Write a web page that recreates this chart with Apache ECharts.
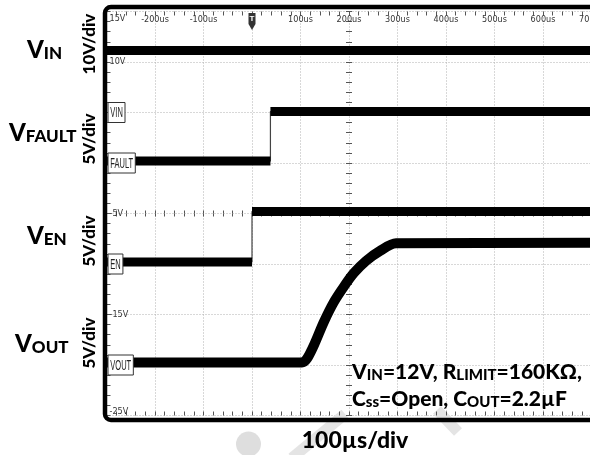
<!DOCTYPE html>
<html><head><meta charset="utf-8">
<script src="https://cdn.jsdelivr.net/npm/echarts@6/dist/echarts.min.js"></script>
<style>html,body{margin:0;padding:0;background:#fff}#c{width:590px;height:455px}</style>
</head><body><div id="c"></div>
<script>
// ---- axis definitions (time in µs, ruler in volts, 5 V/div ruler) ----
const timeMin = -300, timeMax = 700, timeStep = 100;
const topTickLabels = ['', '-200us', '-100us', '', '100us', '200us', '300us', '400us', '500us', '600us', '700us'];
const rulerMin = -25, rulerMax = 15, rulerStep = 5;
const rulerValues = [15, 10, -5, -15, -25];
const rulerLabels = ['15V', '10V', '-5V', '-15V', '-25V'];
const channelNames = ['VIN', 'FAULT', 'EN', 'VOUT'];
const channelGround = [5, 0, -10, -20];

// ---- traces (display position on ruler) ----
const vinTime = [-300, 700];
const vinLevel = [11.15, 11.15];
const faultTime = [-300, 38, 38, 700];
const faultLevel = [0.2, 0.2, 5.1, 5.1];
const enTime = [-300, 0, 0, 700];
const enLevel = [-9.8, -9.8, -4.8, -4.8];
const voutTime = [-300, 103, 113, 128, 148, 169, 190, 210, 235, 264, 297, 700];
const voutLevel = [-19.75, -19.75, -19.4, -18.0, -15.75, -13.75, -12.2, -10.9, -9.7, -8.7, -7.95, -7.9];

const FONT_NARROW = "'Liberation Sans Narrow','DejaVu Sans Condensed',sans-serif";
const FONT_BOLD = "Lato, 'Open Sans', sans-serif";

function pts(ts, vs) { return ts.map((t, i) => [t, vs[i]]); }
function levels(ts, vs) {
  const out = [];
  ts.forEach((t, i) => {
    out.push([t, vs[i]]);
    if (i < ts.length - 1 && ts[i + 1] === t) out.push([t, '-']);
  });
  return out;
}
function line(name, data, width, color, z, smooth) {
  return { name, type: 'line', data, symbol: 'none', silent: true, smooth: smooth || false,
    connectNulls: false, xAxisIndex: 0, yAxisIndex: 0, z,
    lineStyle: { width, color, cap: 'butt', join: 'round' } };
}

const chart = echarts.init(document.getElementById('c'), null, { renderer: 'canvas' });

const gridDef = { left: 106.5, top: 11.5, width: 485, height: 404, containLabel: false, outerBoundsMode: 'none' };
const tickColor = '#555';
const noLine = { show: false, onZero: false };
const baseX = { type: 'value', min: timeMin, max: timeMax, interval: timeStep };
const baseY = { type: 'value', min: rulerMin, max: rulerMax, interval: rulerStep };
const ticks = len => ({
  axisTick: { show: true, inside: true, length: len, lineStyle: { color: tickColor } },
  minorTick: { show: true, splitNumber: 5, length: len, lineStyle: { color: tickColor } }
});
const dotted = { show: true, lineStyle: { color: '#b0b0b0', type: [1, 2], width: 1 } };

const option = {
  animation: false,
  backgroundColor: '#fff',
  grid: gridDef,
  xAxis: [
    Object.assign({}, baseX, ticks(4), { position: 'bottom', axisLine: noLine,
      axisLabel: { show: false }, splitLine: dotted }),
    Object.assign({}, baseX, ticks(4), { position: 'top', axisLine: noLine,
      axisLabel: { show: true, inside: true, margin: 4, fontSize: 9, color: '#333', fontFamily: FONT_NARROW,
        showMinLabel: true, showMaxLabel: true,
        formatter: v => topTickLabels[Math.round((v - timeMin) / timeStep)] || '' },
      splitLine: { show: false } }),
    Object.assign({}, baseX, ticks(3), { position: 'top', offset: -202, axisLine: noLine,
      axisLabel: { show: false }, splitLine: { show: false } }),
    Object.assign({}, baseX, ticks(3), { position: 'bottom', offset: -202, axisLine: noLine,
      axisLabel: { show: false }, splitLine: { show: false } })
  ],
  yAxis: [
    Object.assign({}, baseY, ticks(4), { position: 'left', axisLine: noLine,
      axisLabel: { show: false }, splitLine: dotted }),
    Object.assign({}, baseY, { position: 'left', z: 20,
      axisLine: noLine, axisTick: { show: false }, splitLine: { show: false },
      axisLabel: { show: true, inside: true, margin: 3, fontSize: 9, color: '#333', fontFamily: FONT_NARROW,
        showMinLabel: true, showMaxLabel: true,
        formatter: v => {
          const i = rulerValues.indexOf(Math.round(v));
          if (i < 0) return '';
          if (v === rulerMax) return '{top|' + rulerLabels[i] + '}';
          if (v === rulerMin) return '{bot|' + rulerLabels[i] + '}';
          return rulerLabels[i];
        },
        rich: {
          top: { fontSize: 9, fontFamily: FONT_NARROW, color: '#333', padding: [15, 0, 0, 0] },
          bot: { fontSize: 9, fontFamily: FONT_NARROW, color: '#333', padding: [0, 0, 7, 0] }
        } } }),
    Object.assign({}, baseY, ticks(3), { position: 'left', offset: -242.5, axisLine: noLine,
      axisLabel: { show: false }, splitLine: { show: false } }),
    Object.assign({}, baseY, ticks(3), { position: 'right', offset: -242.5, axisLine: noLine,
      axisLabel: { show: false }, splitLine: { show: false } })
  ],
  series: [
    line('VIN', pts(vinTime, vinLevel), 9, '#000', 4),
    line('FAULT edge', pts(faultTime, faultLevel), 1.2, '#444', 3),
    line('FAULT', levels(faultTime, faultLevel), 9, '#000', 4),
    line('EN edge', pts(enTime, enLevel), 1.2, '#444', 3),
    line('EN', levels(enTime, enLevel), 9, '#000', 4),
    line('VOUT', pts(voutTime, voutLevel), 10, '#000', 4, 0.3)
  ]
};
chart.setOption(option);

// ---- annotations positioned through the axes ----
const toPx = (t, v) => chart.convertToPixel({ gridIndex: 0 }, [t, v]);
const measureCtx = document.createElement('canvas').getContext('2d');
measureCtx.font = '15px "Liberation Sans"';
const g = [];

// watermark (behind)
g.push({ type: 'circle', shape: { cx: 248.5, cy: 444, r: 12.5 }, style: { fill: '#dedede' }, z: 0, silent: true });
g.push({ type: 'line', shape: { x1: 345, y1: 414, x2: 292, y2: 458 }, style: { stroke: '#e4e4e4', lineWidth: 11 }, z: 0, silent: true });
g.push({ type: 'line', shape: { x1: 437, y1: 410, x2: 458, y2: 432 }, style: { stroke: '#e4e4e4', lineWidth: 11 }, z: 0, silent: true });

// frame
g.push({ type: 'rect', shape: { x: 105, y: 7, width: 620, height: 413, r: 6 },
  style: { fill: 'none', stroke: '#000', lineWidth: 4.5 }, z: 60, silent: true });

// channel ground markers
const gridLeft = toPx(timeMin, 0)[0];
channelNames.forEach((name, i) => {
  const y = toPx(timeMin, channelGround[i])[1];
  const scale = 0.5;
  const w = measureCtx.measureText(name).width * scale + 4.5;
  g.push({ type: 'group', x: gridLeft + 1.5, y: y - 10, z: 70, silent: true, children: [
    { type: 'rect', shape: { x: 0, y: 0, width: w, height: 20 }, style: { fill: '#fff', stroke: '#333', lineWidth: 1 }, z: 70 },
    { type: 'text', x: 2.3, y: 10.5, scaleX: scale, z: 71,
      style: { text: name, font: '15px "Liberation Sans"', fill: '#222', align: 'left', verticalAlign: 'middle' } }
  ] });
});

// trigger marker
const trigX = toPx(0, 0)[0];
g.push({ type: 'group', x: trigX, y: 13, z: 70, silent: true, children: [
  { type: 'polygon', shape: { points: [[-3.5, 0], [3.5, 0], [3.5, 11], [0, 17], [-3.5, 11]] }, style: { fill: '#333' }, z: 70 },
  { type: 'text', x: 0, y: 6, z: 71, style: { text: 'T', font: 'bold 8px "Liberation Sans"', fill: '#fff', align: 'center', verticalAlign: 'middle' } }
] });

// left channel names
const capRich = {
  b: { fontFamily: FONT_BOLD, fontWeight: 900, fontSize: 24, lineHeight: 24, verticalAlign: 'bottom', color: '#000' },
  s: { fontFamily: FONT_BOLD, fontWeight: 900, fontSize: 17, lineHeight: 19, verticalAlign: 'bottom', color: '#000' }
};
const leftNames = [
  { big: 'V', small: 'IN', x: 27, y: 62 },
  { big: 'V', small: 'FAULT', x: 9, y: 145 },
  { big: 'V', small: 'EN', x: 27, y: 248 },
  { big: 'V', small: 'OUT', x: 15, y: 356 }
];
leftNames.forEach(n => g.push({ type: 'text', x: n.x, y: n.y, z: 70, silent: true,
  style: { text: '{b|' + n.big + '}{s|' + n.small + '}', rich: capRich, align: 'left', verticalAlign: 'bottom' } }));

// vertical scale labels
const scaleLabels = [
  { text: '10V/div', cy: 44 }, { text: '5V/div', cy: 139 }, { text: '5V/div', cy: 241 }, { text: '5V/div', cy: 343 }
];
scaleLabels.forEach(s => g.push({ type: 'text', x: 90, y: s.cy, rotation: Math.PI / 2, z: 70, silent: true,
  style: { text: s.text, fontFamily: FONT_BOLD, fontWeight: 900, fontSize: 17, fill: '#000', align: 'center', verticalAlign: 'middle' } }));

// condition annotation
const annRich = {
  b: { fontFamily: FONT_BOLD, fontWeight: 900, fontSize: 21, lineHeight: 27, verticalAlign: 'bottom', color: '#000' },
  s: { fontFamily: FONT_BOLD, fontWeight: 900, fontSize: 15, lineHeight: 22, verticalAlign: 'bottom', color: '#000' },
  u: { fontFamily: FONT_BOLD, fontWeight: 900, fontSize: 15, lineHeight: 16, verticalAlign: 'bottom', color: '#000' }
};
g.push({ type: 'text', x: 352, y: 410, z: 70, silent: true,
  style: { text: '{b|V}{s|IN}{b|=12V, R}{s|LIMIT}{b|=160KΩ,}\n{b|C}{s|ss}{b|=Open, C}{u|OUT}{b|=2.2µF}',
    rich: annRich, align: 'left', verticalAlign: 'bottom' } });

// time/div label
g.push({ type: 'text', x: 355, y: 441, z: 70, silent: true,
  style: { text: '100µs/div', fontFamily: FONT_BOLD, fontWeight: 900, fontSize: 23, fill: '#000', align: 'center', verticalAlign: 'middle' } });

chart.setOption({ graphic: g });
</script></body></html>
